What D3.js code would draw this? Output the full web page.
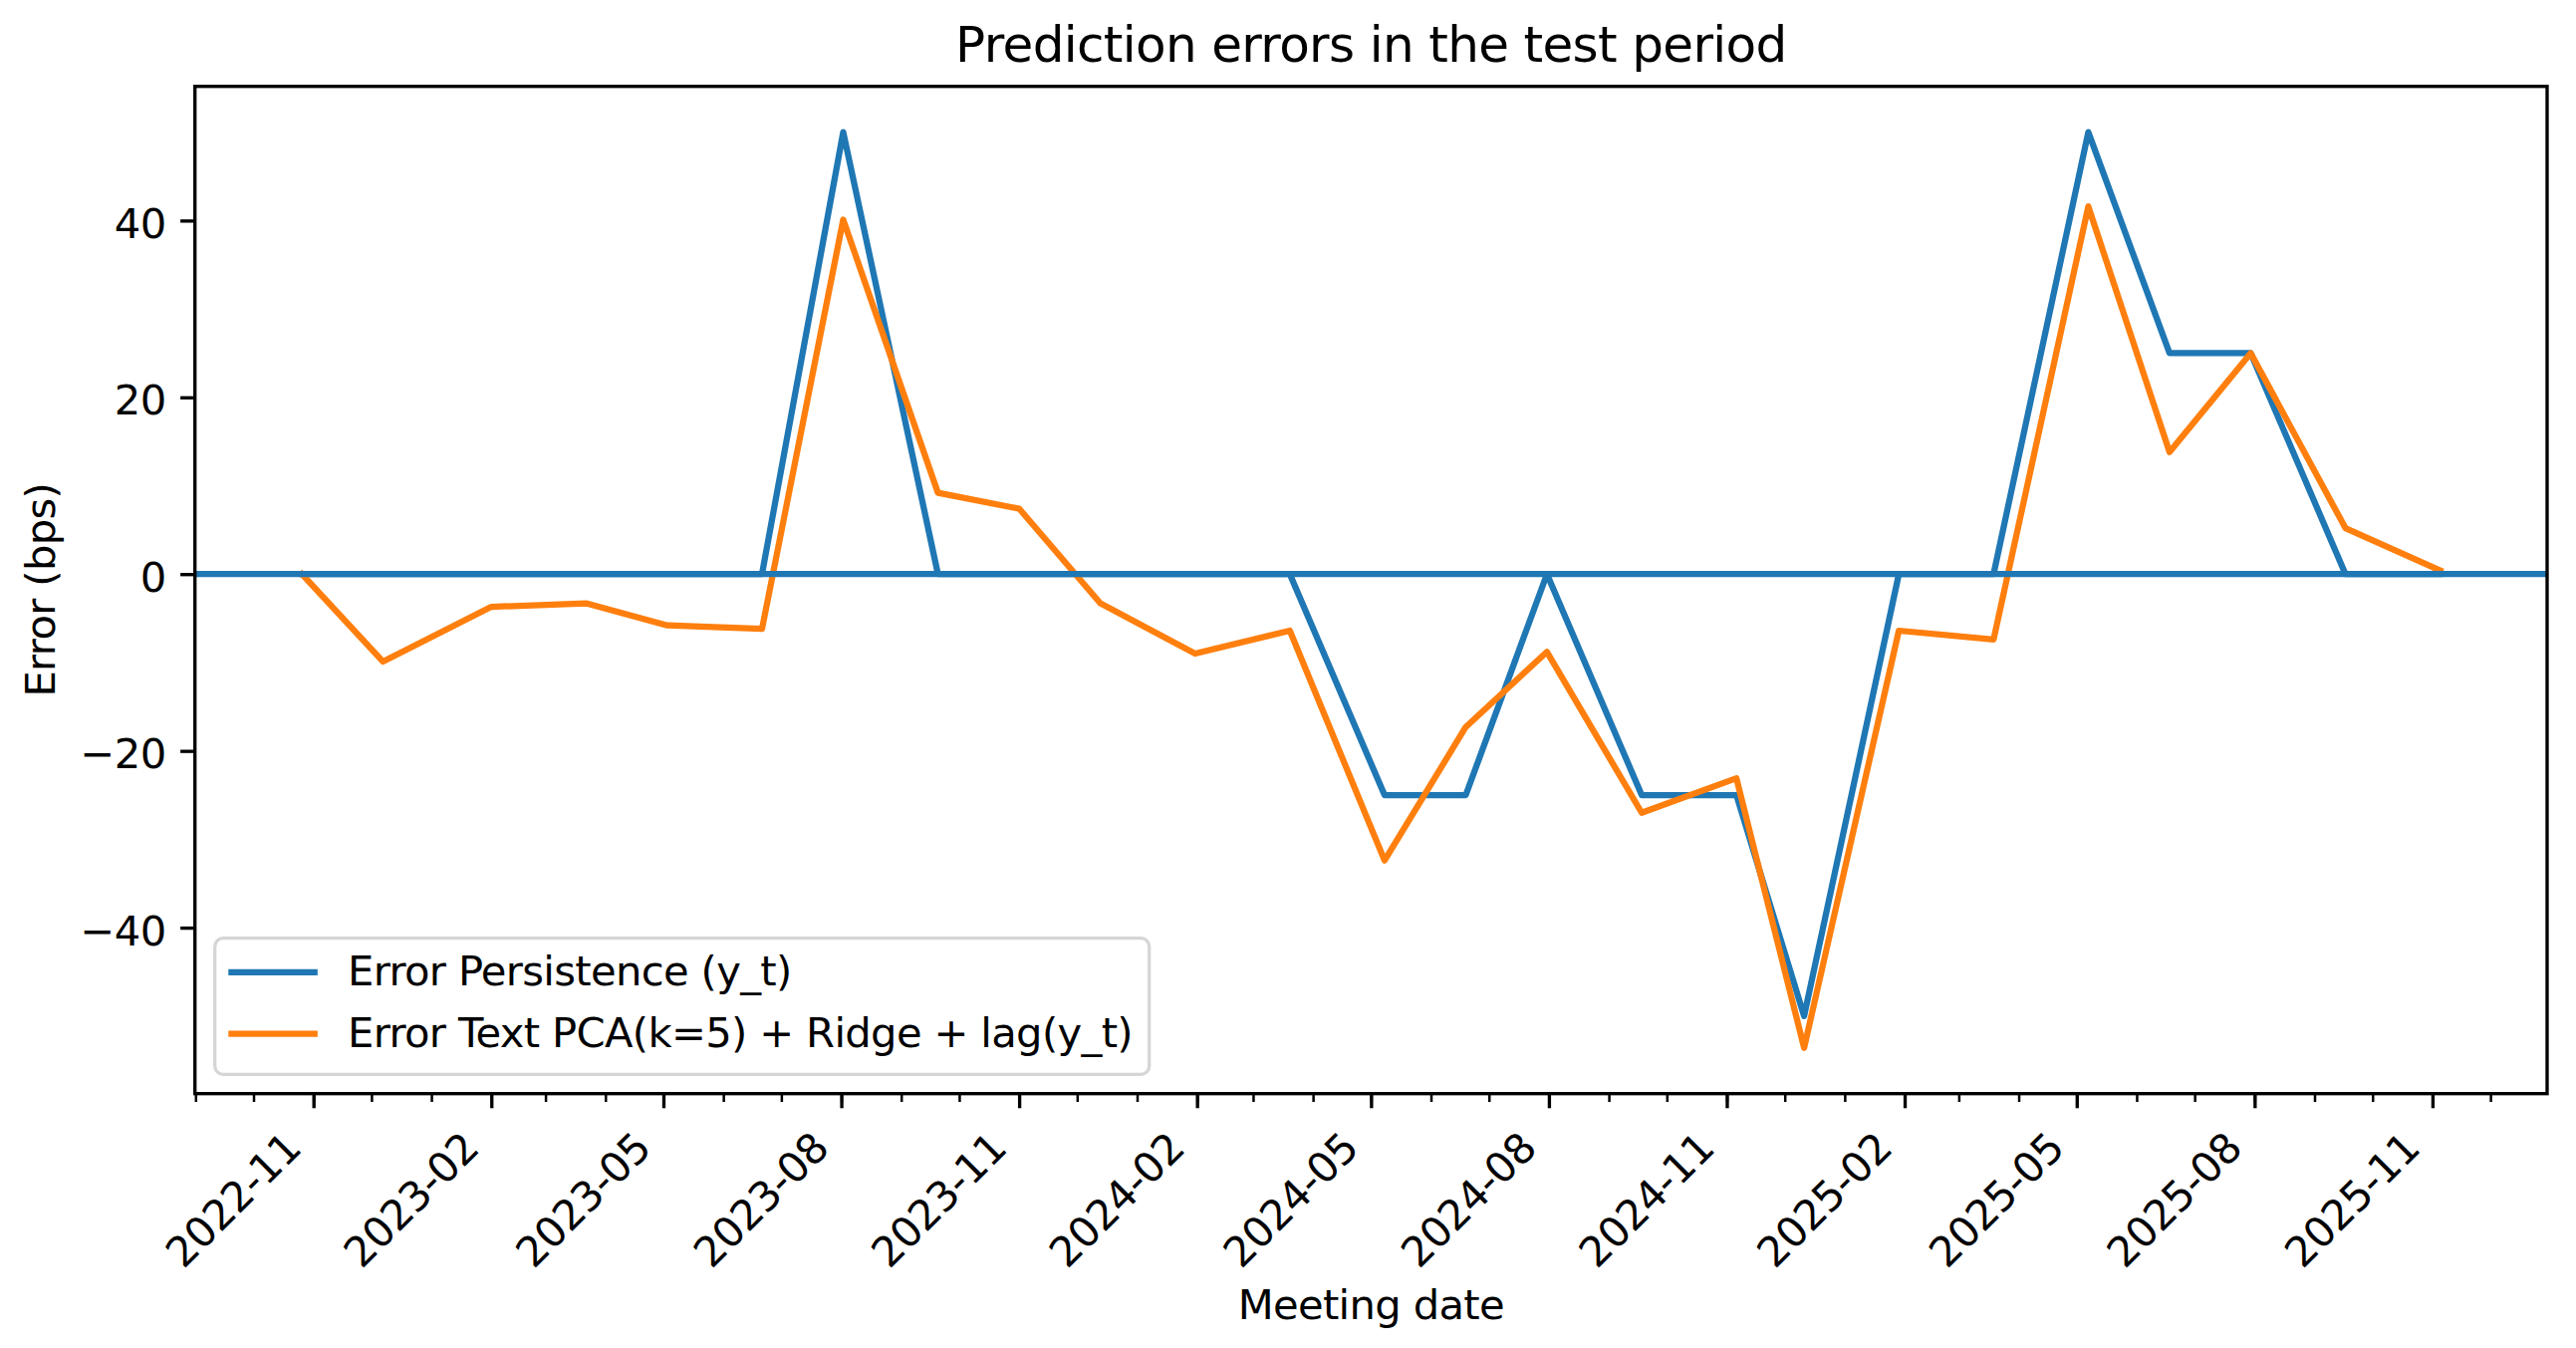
<!DOCTYPE html>
<html>
<head>
<meta charset="utf-8">
<script src="https://cdn.jsdelivr.net/npm/d3@7"></script>
<style>
  body { margin: 0; background: #fff; }
  text { font-family: "DejaVu Sans", sans-serif; fill: #000; letter-spacing: -0.65px; }
</style>
</head>
<body>
<svg id="chart"></svg>
<script>
const W = 2586, H = 1353;

// Copom meeting dates in the test period
const meetingDates = ['2022-10-26', '2022-12-07', '2023-02-01', '2023-03-22', '2023-05-03', '2023-06-21',
    '2023-08-02', '2023-09-20', '2023-11-01', '2023-12-13', '2024-01-31', '2024-03-20', '2024-05-08',
    '2024-06-19', '2024-07-31', '2024-09-18', '2024-11-06', '2024-12-11', '2025-01-29', '2025-03-19',
    '2025-05-07', '2025-06-18', '2025-07-30', '2025-09-17', '2025-11-05'];

const errPersistence = [0, 0, 0, 0, 0, 0, 50, 0, 0, 0, 0, 0, -25, -25, 0, -25, -25, -50, 0, 0, 50, 25, 25, 0, 0];
const errTextPca = [0, -9.9, -3.7, -3.3, -5.8, -6.2, 40.1, 9.2, 7.4, -3.3, -9.0, -6.4, -32.4, -17.3, -8.8,
    -27.0, -23.1, -53.6, -6.4, -7.4, 41.6, 13.8, 25.0, 5.2, 0.4];

const seriesNames = ['Error Persistence (y_t)', 'Error Text PCA(k=5) + Ridge + lag(y_t)'];
const seriesColors = ['#1f77b4', '#ff7f0e'];

const xTickLabels = ['2022-11', '2023-02', '2023-05', '2023-08', '2023-11', '2024-02', '2024-05',
    '2024-08', '2024-11', '2025-02', '2025-05', '2025-08', '2025-11'];
const yTicks = [-40, -20, 0, 20, 40];

const margin = { left: 195.7, right: W - 2557, top: 86.7, bottom: H - 1097.7 };
const plotW = W - margin.left - margin.right;
const plotH = H - margin.top - margin.bottom;

const FS = 41.67;      // 10pt at 300 dpi
const LW = 6.25;       // 1.5pt
const SPINE = 3.33;    // 0.8pt

const parse = d3.utcParse('%Y-%m-%d');
const dates = meetingDates.map(parse);

// matplotlib style 5% margins
const xExt = d3.extent(dates);
const xPad = (xExt[1] - xExt[0]) * 0.05;
const x = d3.scaleUtc()
    .domain([new Date(+xExt[0] - xPad), new Date(+xExt[1] + xPad)])
    .range([0, plotW]);

const yExt = d3.extent(errPersistence.concat(errTextPca));
const yPad = (yExt[1] - yExt[0]) * 0.05;
const y = d3.scaleLinear()
    .domain([yExt[0] - yPad, yExt[1] + yPad])
    .range([plotH, 0]);

const svg = d3.select('#chart')
    .attr('width', W)
    .attr('height', H)
    .attr('viewBox', `0 0 ${W} ${H}`);

svg.append('rect').attr('width', W).attr('height', H).attr('fill', '#fff');

const g = svg.append('g')
    .attr('transform', `translate(${margin.left},${margin.top})`);

// lines
const line = d3.line()
    .x((d, i) => x(dates[i]))
    .y(d => y(d));

[errPersistence, errTextPca].forEach((vals, k) => {
    g.append('path')
        .datum(vals)
        .attr('d', line)
        .attr('fill', 'none')
        .attr('stroke', seriesColors[k])
        .attr('stroke-width', LW)
        .attr('stroke-linejoin', 'round')
        .attr('stroke-linecap', 'square');
});

// zero reference line across the axes
g.append('line')
    .attr('x1', 0)
    .attr('x2', plotW)
    .attr('y1', y(0))
    .attr('y2', y(0))
    .attr('stroke', seriesColors[0])
    .attr('stroke-width', LW);

// x axis: minor monthly ticks
const minorAxis = d3.axisBottom(x)
    .ticks(d3.utcMonth.every(1))
    .tickFormat('')
    .tickSize(8.33);
const gMinor = g.append('g')
    .attr('transform', `translate(0,${plotH})`)
    .call(minorAxis);
gMinor.select('.domain').remove();
gMinor.selectAll('line').attr('stroke', '#000').attr('stroke-width', 2.5);

// x axis: major ticks, labelled
const majorDates = xTickLabels.map(d3.utcParse('%Y-%m'));
const xAxis = d3.axisBottom(x)
    .tickValues(majorDates)
    .tickFormat(d3.utcFormat('%Y-%m'))
    .tickSize(14.6);
const gx = g.append('g')
    .attr('transform', `translate(0,${plotH})`)
    .call(xAxis);
gx.select('.domain').remove();
gx.selectAll('line').attr('stroke', '#000').attr('stroke-width', SPINE);
gx.selectAll('text')
    .attr('x', 0)
    .attr('y', 0)
    .attr('dy', 0)
    .attr('text-anchor', 'end')
    .attr('font-size', FS)
    .attr('font-family', 'DejaVu Sans')
    .attr('fill', '#000')
    .attr('transform', 'translate(-11,57) rotate(-45)');

// y axis
const yAxis = d3.axisLeft(y)
    .tickValues(yTicks)
    .tickFormat(d3.format('d'))
    .tickSize(14.6)
    .tickPadding(14.6);
const gy = g.append('g').call(yAxis);
gy.select('.domain').remove();
gy.selectAll('line').attr('stroke', '#000').attr('stroke-width', SPINE);
gy.selectAll('text')
    .attr('dy', '0.41em')
    .attr('font-size', FS)
    .attr('font-family', 'DejaVu Sans')
    .attr('fill', '#000');

// spines
g.append('rect')
    .attr('width', plotW)
    .attr('height', plotH)
    .attr('fill', 'none')
    .attr('stroke', '#000')
    .attr('stroke-width', SPINE);

// legend
const legX = 215.7, legY = 941.7, legH = 136.6;
const leg = svg.append('g');
const legBox = leg.append('rect')
    .attr('x', legX)
    .attr('y', legY)
    .attr('height', legH)
    .attr('rx', 8.3)
    .attr('fill', '#fff')
    .attr('fill-opacity', 0.8)
    .attr('stroke', '#cccccc')
    .attr('stroke-opacity', 0.8)
    .attr('stroke-width', 3.3);

const rowBase = [989.3, 1051];
let maxLen = 0;
seriesNames.forEach((name, k) => {
    leg.append('line')
        .attr('x1', legX + 16.7)
        .attr('x2', legX + 16.7 + 83.3)
        .attr('y1', rowBase[k] - 13.5)
        .attr('y2', rowBase[k] - 13.5)
        .attr('stroke', seriesColors[k])
        .attr('stroke-width', LW)
        .attr('stroke-linecap', 'square');
    const t = leg.append('text')
        .attr('x', legX + 16.7 + 83.3 + 33.3)
        .attr('y', rowBase[k])
        .attr('font-size', FS)
        .text(name);
    maxLen = Math.max(maxLen, t.node().getComputedTextLength());
});
legBox.attr('width', 16.7 + 83.3 + 33.3 + maxLen + 16.7);

// title and axis labels
svg.append('text')
    .attr('x', margin.left + plotW / 2)
    .attr('y', 62.3)
    .attr('text-anchor', 'middle')
    .attr('font-size', 50)
    .text('Prediction errors in the test period');

svg.append('text')
    .attr('x', margin.left + plotW / 2)
    .attr('y', 1324)
    .attr('text-anchor', 'middle')
    .attr('font-size', FS)
    .text('Meeting date');

svg.append('text')
    .attr('transform', `translate(55,${margin.top + plotH / 2}) rotate(-90)`)
    .attr('text-anchor', 'middle')
    .attr('font-size', FS)
    .text('Error (bps)');
</script>
</body>
</html>
